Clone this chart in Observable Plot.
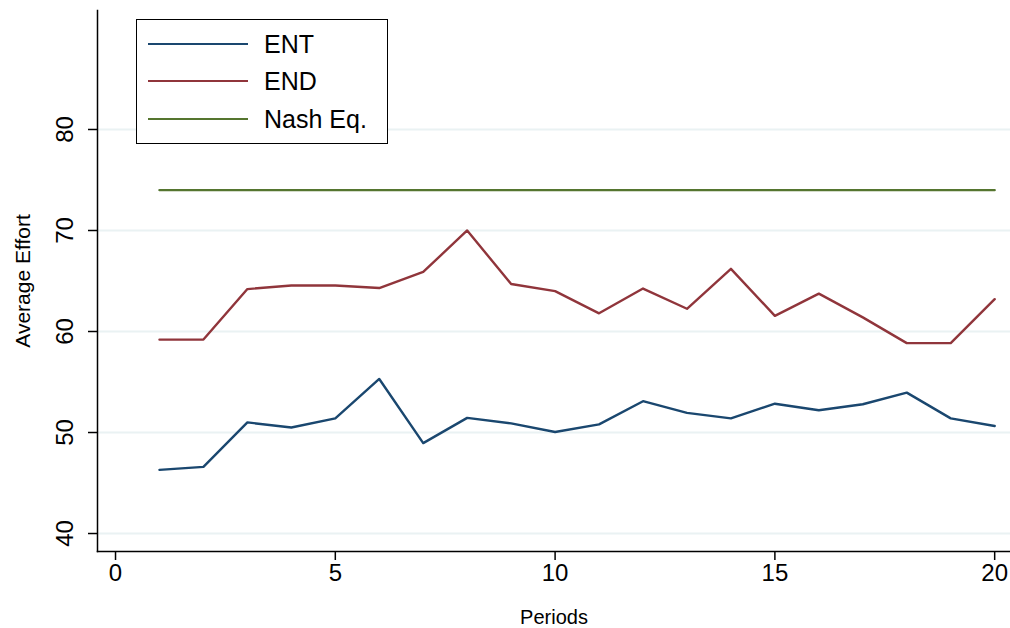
<!DOCTYPE html>
<html><head><meta charset="utf-8">
<script src="https://cdn.jsdelivr.net/npm/d3@7"></script>
<script src="https://cdn.jsdelivr.net/npm/@observablehq/plot@0.6"></script>
<style>
html,body{margin:0;padding:0;background:#fff;}
#wrap{position:relative;width:1010px;height:628px;font-family:"Liberation Sans",Arial,sans-serif;}
#legend{position:absolute;left:136px;top:19px;width:252px;height:125px;border:1.5px solid #000;background:#fff;box-sizing:border-box;}
.row{position:absolute;left:11px;height:30px;display:flex;align-items:center;font-size:25px;color:#000;line-height:30px;}
.sw{width:100px;height:2px;margin-right:16px;}
</style></head>
<body><div id="wrap"></div>
<script>
const periods = [1,2,3,4,5,6,7,8,9,10,11,12,13,14,15,16,17,18,19,20];
const ent = [46.3,46.6,51.0,50.5,51.4,55.3,48.95,51.45,50.9,50.05,50.8,53.1,51.95,51.4,52.85,52.2,52.8,53.95,51.4,50.65];
const endv = [59.2,59.2,64.2,64.55,64.55,64.3,65.9,70.0,64.7,64.0,61.8,64.25,62.25,66.2,61.55,63.75,61.4,58.85,58.85,63.2];
const nash = 74;
const seriesNames = ["ENT","END","Nash Eq."];
const seriesColors = ["#1a476f","#90353b","#55752f"];
const xTicks = [0,5,10,15,20];
const yTicks = [40,50,60,70,80];

const data = [];
periods.forEach((p,i)=>{
  data.push({period:p, value:ent[i], series:"ENT"});
  data.push({period:p, value:endv[i], series:"END"});
  data.push({period:p, value:nash, series:"Nash Eq."});
});

const plot = Plot.plot({
  width:1010, height:628,
  marginLeft:97, marginRight:0, marginTop:10, marginBottom:77,
  style:{fontFamily:"Liberation Sans, Arial, sans-serif", background:"#fff"},
  x:{domain:[-0.41,20.36]},
  y:{domain:[38.22,91.78]},
  color:{domain:seriesNames, range:seriesColors},
  marks:[
    Plot.gridY(yTicks,{stroke:"#eaf2f3", strokeOpacity:1, strokeWidth:2}),
    Plot.lineY(data,{x:"period", y:"value", z:"series", stroke:"series", strokeWidth:2.4}),
    Plot.axisX(xTicks,{tickSize:9, tickPadding:3, fontSize:24, tickFormat:d=>d, label:null, strokeWidth:1.5}),
    Plot.axisY(yTicks,{tickSize:9, tickFormat:()=>"", label:null, strokeWidth:1.5}),
    Plot.text(yTicks,{y:d=>d, text:d=>String(d), frameAnchor:"left", dx:-32.5, rotate:-90, textAnchor:"middle", lineAnchor:"middle", fontSize:24}),
    Plot.frame({anchor:"left", stroke:"#000", strokeWidth:1.5}),
    Plot.frame({anchor:"bottom", stroke:"#000", strokeWidth:1.5}),
    Plot.text(["Periods"],{frameAnchor:"bottom", dy:66, textAnchor:"middle", lineAnchor:"middle", fontSize:20}),
    Plot.text(["Average Effort"],{frameAnchor:"left", dx:-74, rotate:-90, textAnchor:"middle", lineAnchor:"middle", fontSize:21})
  ]
});
const wrap = document.getElementById("wrap");
wrap.appendChild(plot);
const leg = document.createElement("div");
leg.id="legend";
seriesNames.forEach((n,i)=>{
  const r=document.createElement("div");
  r.className="row";
  r.style.top=(8.5+i*37.5)+"px";
  r.innerHTML=`<span class="sw" style="background:${seriesColors[i]}"></span><span>${n}</span>`;
  leg.appendChild(r);
});
wrap.appendChild(leg);
</script></body></html>
